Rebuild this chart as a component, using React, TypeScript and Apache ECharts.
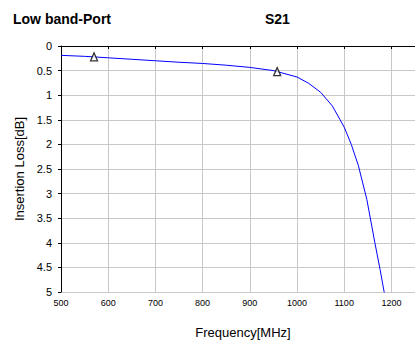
import React, { useEffect, useRef } from "react";
import * as echarts from "echarts";

const freqMHz = [500, 550, 600, 650, 700, 750, 800, 850, 900, 950, 1000, 1025, 1050, 1075, 1100, 1115, 1130, 1148, 1165, 1176, 1185];
const lossDb = [0.19, 0.21, 0.24, 0.27, 0.3, 0.33, 0.355, 0.39, 0.435, 0.5, 0.63, 0.76, 0.94, 1.22, 1.65, 2.0, 2.43, 3.12, 4.0, 4.54, 5.02];
const markerFreq = [570, 958];
const markerLoss = [0.22, 0.52];
const titleLeft = "Low band-Port";
const titleRight = "S21";
const xName = "Frequency[MHz]";
const yName = "Insertion Loss[dB]";

export default function App() {
  const ref = useRef<HTMLDivElement>(null);
  useEffect(() => {
    document.body.style.margin = "0";
    const chart = echarts.init(ref.current!, null, { renderer: "svg" });
    const font = "'Liberation Sans', Arial, sans-serif";
    chart.setOption({
      animation: false,
      backgroundColor: "#ffffff",
      textStyle: { fontFamily: font },
      title: [
        { text: titleLeft, left: 8, top: 7, textStyle: { fontSize: 14, fontWeight: "bold", color: "#000", fontFamily: font } },
        { text: titleRight, left: 260, top: 7, textStyle: { fontSize: 14, fontWeight: "bold", color: "#000", fontFamily: font } },
      ],
      grid: { left: 61, top: 46, right: 0, bottom: 54, containLabel: false, outerBoundsMode: "none" },
      xAxis: {
        type: "value",
        min: 500,
        max: 1250,
        interval: 100,
        name: xName,
        nameLocation: "middle",
        nameGap: 34,
        nameTextStyle: { fontSize: 13, color: "#000", fontFamily: font, padding: [0, 0, 0, 10] },
        axisLine: { show: true, lineStyle: { color: "#000", width: 1 } },
        axisTick: { show: true, length: 3, lineStyle: { color: "#000" } },
        axisLabel: { fontSize: 9, color: "#000", margin: 6, fontFamily: font, showMaxLabel: false, formatter: (v: number) => String(v) },
        splitLine: { show: true, lineStyle: { color: "#c8c8c8", width: 1 } },
      },
      yAxis: {
        type: "value",
        inverse: true,
        min: 0,
        max: 5,
        interval: 0.5,
        name: yName,
        nameLocation: "middle",
        nameGap: 30,
        nameTextStyle: { fontSize: 13, color: "#000", fontFamily: font },
        axisLine: { show: true, lineStyle: { color: "#000", width: 1 } },
        axisTick: { show: true, length: 3, lineStyle: { color: "#000" } },
        axisLabel: { fontSize: 11, color: "#000", margin: 9, fontFamily: font, formatter: (v: number) => String(v) },
        splitLine: { show: true, lineStyle: { color: "#c8c8c8", width: 1 } },
      },
      series: [
        {
          type: "line",
          data: freqMHz.map((f, i) => [f, lossDb[i]]),
          showSymbol: false,
          clip: true,
          lineStyle: { color: "#0000ff", width: 1 },
          z: 2,
        },
        {
          type: "scatter",
          data: markerFreq.map((f, i) => [f, markerLoss[i]]),
          symbol: "triangle",
          symbolSize: [7, 8],
          itemStyle: { color: "#ffffff", borderColor: "#000", borderWidth: 1.3 },
          z: 3,
        },
      ],
    });
    return () => chart.dispose();
  }, []);
  return <div ref={ref} style={{ width: 415, height: 346 }} />;
}
